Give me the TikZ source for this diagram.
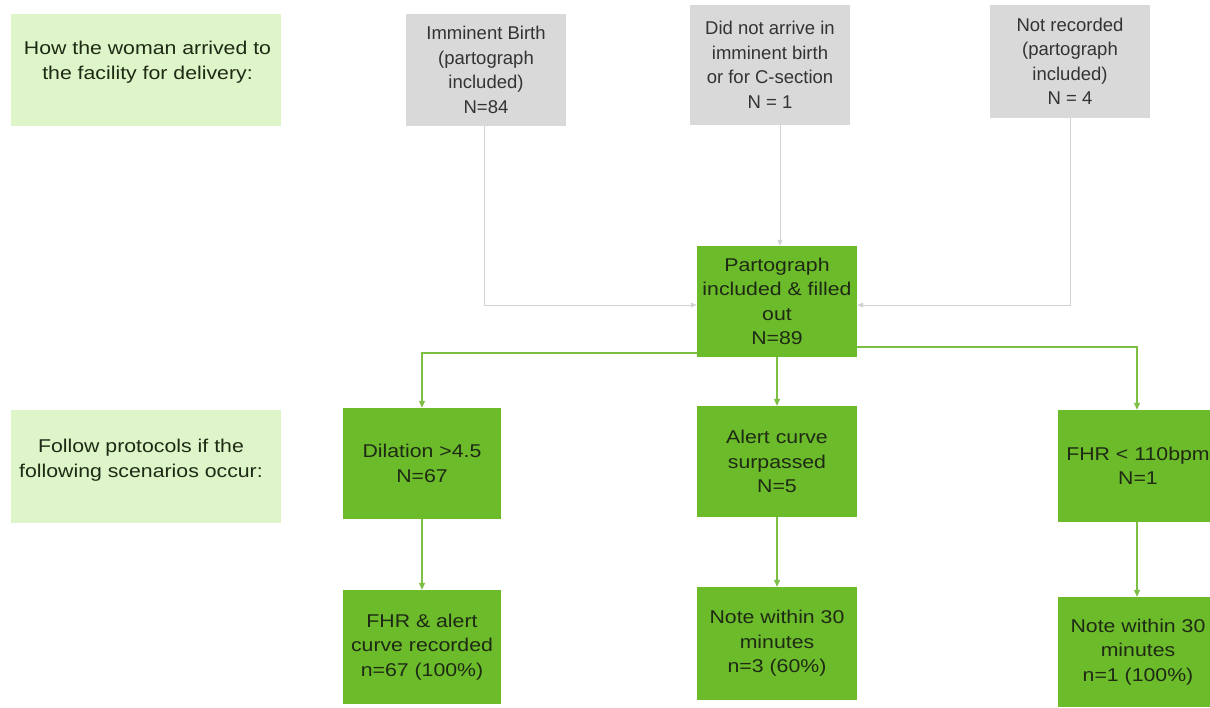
\documentclass[tikz,border=0pt]{standalone}
\usepackage{fontspec}
\setmainfont{Liberation Sans}
\newfontfamily\widefont[FakeStretch=1.15]{Liberation Sans}
\usetikzlibrary{arrows.meta}
\definecolor{boxgreen}{HTML}{6CBB2B}
\definecolor{lightgreen}{HTML}{DDF5C9}
\definecolor{boxgray}{HTML}{D9D9D9}
\definecolor{linegray}{HTML}{D2D2D2}
\definecolor{linegreen}{HTML}{7DBE45}
\definecolor{txtdark}{HTML}{1E2A14}
\tikzset{
  base/.style={rectangle, inner sep=0pt, align=center, font=\fontsize{18.5}{24.5}\selectfont},
  widetext/.style={font=\widefont\fontsize{18.5}{24.5}\selectfont},
  gbox/.style={base, fill=boxgreen, text=txtdark, widetext},
  graybox/.style={base, fill=boxgray, text=black!80},
  lbox/.style={base, fill=lightgreen, text=txtdark},
  garrow/.style={draw=linegray, line width=1pt, -{Triangle[length=6pt,width=5pt]}},
  grarrow/.style={draw=linegreen, line width=1.2pt, -{Triangle[length=7pt,width=6pt]}}
}
\begin{document}
\begin{tikzpicture}[x=1pt,y=-1pt]
\useasboundingbox (0,0) rectangle (1210,707);
\clip (0,0) rectangle (1210,707);
\fill[white] (0,0) rectangle (1210,707);
% left labels
\node[lbox, minimum width=270pt, minimum height=112pt] (l1) at (146,70) {};
\node[base, text=txtdark, widetext] (l1t) at (147.5,62) {How the woman arrived to\\the facility for delivery:};
\node[lbox, minimum width=270pt, minimum height=113pt] (l2) at (146,466.5) {};
\node[base, text=txtdark, widetext] (l2t) at (141,460) {Follow protocols if the\\following scenarios occur:};
% gray boxes
\node[graybox, minimum width=160pt, minimum height=112pt] (g1) at (486,70) {Imminent Birth\\(partograph\\included)\\N=84};
\node[graybox, minimum width=160pt, minimum height=120pt] (g2) at (770,65) {Did not arrive in\\imminent birth\\or for C-section\\N = 1};
\node[graybox, minimum width=160pt, minimum height=113pt] (g3) at (1070,61.5) {Not recorded\\(partograph\\included)\\N = 4};
% center
\node[gbox, minimum width=160pt, minimum height=111pt] (c) at (777,301.5) {Partograph\\included \& filled\\out\\N=89};
% row 2
\node[gbox, minimum width=158pt, minimum height=111pt] (a2) at (422,463.5) {Dilation >4.5\\N=67};
\node[gbox, minimum width=160pt, minimum height=111pt] (b2) at (777,461.5) {Alert curve\\surpassed\\N=5};
\node[gbox, minimum width=160pt, minimum height=112pt] (c2) at (1138,466) {FHR < 110bpm\\N=1};
% row 3
\node[gbox, minimum width=158pt, minimum height=114pt] (a3) at (422,647) {FHR \& alert\\curve recorded\\n=67 (100\%)};
\node[gbox, minimum width=160pt, minimum height=113pt] (b3) at (777,643.5) {Note within 30\\minutes\\n=3 (60\%)};
\node[gbox, minimum width=160pt, minimum height=110pt] (c3) at (1138,652) {Note within 30\\minutes\\n=1 (100\%)};
% gray connectors
\coordinate (y305) at (0,305);
\coordinate (y353) at (0,353);
\coordinate (y347) at (0,347);
\draw[garrow] (g1.south -| 484,0) |- (c.west |- y305);
\draw[garrow] (g2.south -| 780,0) -- (c.north -| 780,0);
\draw[garrow] (g3.south) |- (c.east |- y305);
% green connectors
\draw[grarrow] (c.west |- y353) -| (a2.north);
\draw[grarrow] (c.south) -- (b2.north);
\draw[grarrow] (c.east |- y347) -| (c2.north -| 1137,0);
\draw[grarrow] (a2.south) -- (a3.north);
\draw[grarrow] (b2.south) -- (b3.north);
\draw[grarrow] (c2.south -| 1137,0) -- (c3.north -| 1137,0);
\end{tikzpicture}
\end{document}
